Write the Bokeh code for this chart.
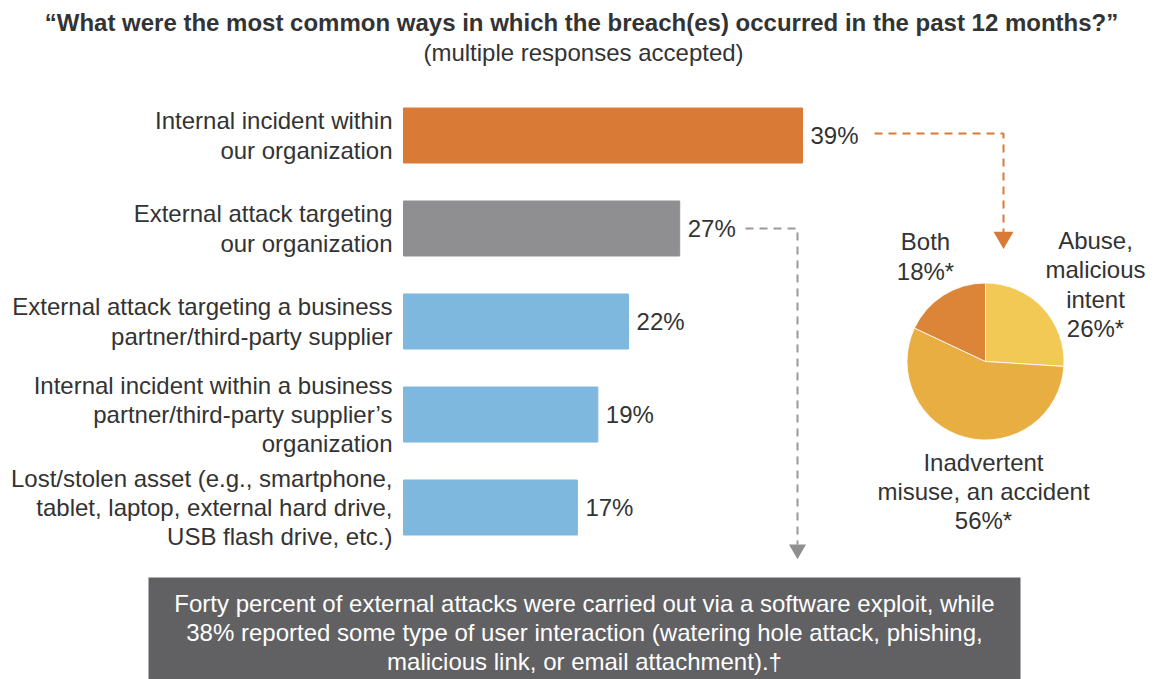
from bokeh.plotting import figure
from bokeh.models import Range1d, ColumnDataSource
from bokeh.core.properties import value
from bokeh.embed import file_html
from bokeh.resources import INLINE
import math

# ---------------- data ----------------
categories = [
    "Internal incident within\nour organization",
    "External attack targeting\nour organization",
    "External attack targeting a business\npartner/third-party supplier",
    "Internal incident within a business\npartner/third-party supplier\u2019s\norganization",
    "Lost/stolen asset (e.g., smartphone,\ntablet, laptop, external hard drive,\nUSB flash drive, etc.)",
]
percents = [39, 27, 22, 19, 17]
bar_colors = ["#D97A36", "#8F8F91", "#7FB8DE", "#7FB8DE", "#7FB8DE"]

pie_labels = ["Abuse,\nmalicious\nintent\n26%*", "Inadvertent\nmisuse, an accident\n56%*", "Both\n18%*"]
pie_shares = [26, 56, 18]
pie_colors = ["#F2C955", "#E8AE42", "#DC8538"]

title = "\u201cWhat were the most common ways in which the breach(es) occurred in the past 12 months?\u201d"
subtitle = "(multiple responses accepted)"
note = ("Forty percent of external attacks were carried out via a software exploit, while\n"
        "38% reported some type of user interaction (watering hole attack, phishing,\n"
        "malicious link, or email attachment).\u2020")

# ---------------- layout ----------------
W, H = 1155, 679
X0, K = 403.0, 10.23      # pixel of 0%, pixels per percent
Y0, DY = 135.0, 93.0      # pixel centre of first bar, pixel spacing

def dx(px):
    return (px - X0) / K

def dy(py):
    return -(py - Y0) / DY

FONT = "Liberation Sans"
TXT = "#333333"
FS = "24px"
LH = 1.08

p = figure(width=W, height=H, x_range=Range1d(dx(0), dx(W)), y_range=Range1d(dy(H), dy(0)),
           x_axis_type=None, y_axis_type=None, toolbar_location=None,
           output_backend="svg", min_border=0)
p.grid.visible = False
p.outline_line_color = None
p.background_fill_color = "white"

n = len(categories)
src = ColumnDataSource(dict(
    y=[-i for i in range(n)],
    right=percents,
    color=bar_colors,
    cat=categories,
    lab=[f"{v}%" for v in percents],
    labx=[v + 8 / K for v in percents],
    catx=[dx(392)] * n,
))
p.hbar(y="y", left=0, right="right", height=55 / DY, color="color", source=src)
p.text(x="catx", y="y", text="cat", source=src, text_align="right", text_baseline="middle",
       text_font=value(FONT), text_font_size=FS, text_color=TXT, text_line_height=LH)
p.text(x="labx", y="y", text="lab", source=src, text_align="left", text_baseline="middle",
       text_font=value(FONT), text_font_size=FS, text_color=TXT)

# title
p.text(x=[dx(581)], y=[dy(22)], text=[title], text_align="center", text_baseline="middle",
       text_font=value(FONT), text_font_style="bold", text_font_size="24px", text_color=TXT)
p.text(x=[dx(583)], y=[dy(52)], text=[subtitle], text_align="center", text_baseline="middle",
       text_font=value(FONT), text_font_size=FS, text_color=TXT)

# pie
cx, cy, R = 985, 361, 78.5
total = sum(pie_shares)
starts, ends = [], []
acc = 0.0
for s in pie_shares:
    a0 = math.pi / 2 - 2 * math.pi * acc / total
    acc += s
    a1 = math.pi / 2 - 2 * math.pi * acc / total
    starts.append(a1)
    ends.append(a0)
p.wedge(x=[dx(cx)] * 3, y=[dy(cy)] * 3, radius=R, radius_units="screen",
        start_angle=starts, end_angle=ends, direction="anticlock",
        fill_color=pie_colors, line_color="white", line_width=0.8)

pie_lab_x = [1095, 983, 925]
pie_lab_y = [284, 491, 256]
p.text(x=[dx(v) for v in pie_lab_x], y=[dy(v) for v in pie_lab_y], text=pie_labels,
       text_align="center", text_baseline="middle", text_font=value(FONT),
       text_font_size=FS, text_color=TXT, text_line_height=LH)

# orange arrow
p.line(x=[dx(874), dx(1003), dx(1003)], y=[dy(133), dy(133), dy(232)],
       line_color="#D97A36", line_width=2, line_dash="8 6")
p.scatter(x=[dx(1003)], y=[dy(237)], marker="inverted_triangle", size=20,
          fill_color="#D97A36", line_color=None)

# grey arrow
p.line(x=[dx(745), dx(797), dx(797)], y=[dy(228), dy(228), dy(544)],
       line_color="#9A9A9A", line_width=2, line_dash="8 6")
p.scatter(x=[dx(797)], y=[dy(549)], marker="inverted_triangle", size=17,
          fill_color="#8F8F91", line_color=None)

# note box
p.quad(left=[dx(148)], right=[dx(1020)], top=[dy(577)], bottom=[dy(H + 5)],
       fill_color="#616163", line_color=None)
p.text(x=[dx(584)], y=[dy(632)], text=[note], text_align="center", text_baseline="middle",
       text_font=value(FONT), text_font_size=FS, text_color="white", text_line_height=LH)

open("out.html", "w").write(file_html(p, INLINE))
